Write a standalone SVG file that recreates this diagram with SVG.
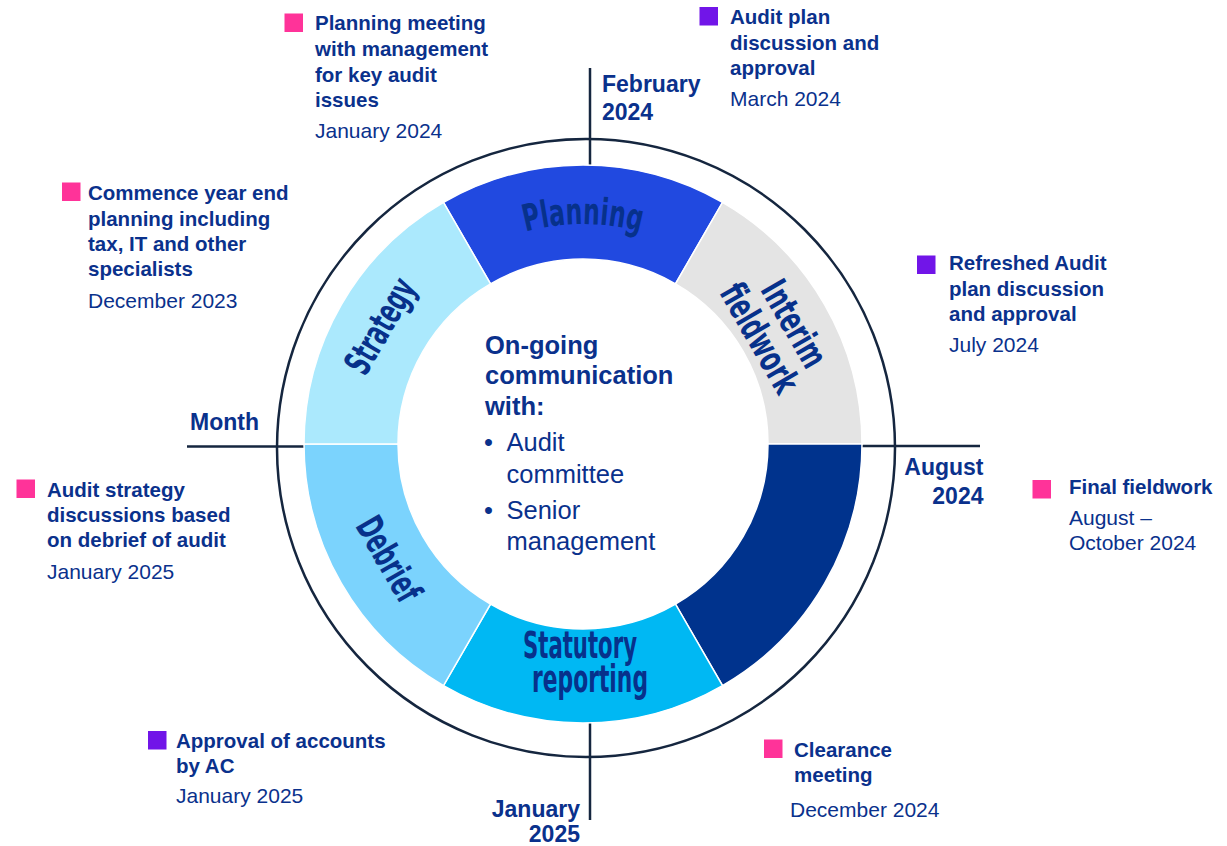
<svg xmlns="http://www.w3.org/2000/svg" width="1227" height="846" viewBox="0 0 1227 846">
<defs>
<style>
.lbl{font-family:"Liberation Sans",Arial,sans-serif;font-weight:bold;font-size:20.5px;fill:#0A318C}
.date{font-family:"Liberation Sans",Arial,sans-serif;font-size:21px;fill:#0A318C}
.axis{font-family:"Liberation Sans",Arial,sans-serif;font-weight:bold;font-size:23px;fill:#0A318C}
.seg{font-family:"Liberation Sans Narrow","DejaVu Sans Condensed","Liberation Sans",sans-serif;font-weight:bold;font-size:37px;fill:#07318B}
.ctr{font-family:"Liberation Sans",Arial,sans-serif;font-size:25.5px;fill:#0A318C}
.line{stroke:#15263F;stroke-width:2.5;fill:none}
.sep{stroke:#FFFFFF;stroke-width:1.5}
.pink{fill:#FF3399}
.purple{fill:#7115E8}
</style>
<path id="arcTop" d="M 392.5 334 A 220 220 0 0 1 773.5 334"/>
</defs>

<g id="frame">
<circle class="line" cx="586" cy="448" r="309"/>
<line class="line" x1="590" y1="68" x2="590" y2="166"/>
<line class="line" x1="590" y1="722" x2="590" y2="820"/>
<line class="line" x1="187" y1="446.5" x2="305" y2="446.5"/>
<line class="line" x1="861" y1="446" x2="980" y2="446"/>
</g>

<g id="ring">
<g id="seg-planning"><path class="sep" fill="#2149E0" d="M 443.5 202.4 A 279 279 0 0 1 722.5 202.4 L 675.5 283.8 A 185 185 0 0 0 490.5 283.8 Z"/>
<text class="seg"><textPath href="#arcTop" startOffset="50%" text-anchor="middle" textLength="116" lengthAdjust="spacingAndGlyphs">Planning</textPath></text></g>
<g id="seg-interim"><path class="sep" fill="#E4E4E4" d="M 722.5 202.4 A 279 279 0 0 1 862 444 L 768 444 A 185 185 0 0 0 675.5 283.8 Z"/>
<g transform="translate(777,331.5) rotate(60)">
<text class="seg" x="2" y="-6" text-anchor="middle" textLength="94" lengthAdjust="spacingAndGlyphs">Interim</text>
<text class="seg" x="-3" y="31" text-anchor="middle" textLength="120" lengthAdjust="spacingAndGlyphs">fieldwork</text>
</g></g>
<g id="seg-final"><path class="sep" fill="#00338D" d="M 862 444 A 279 279 0 0 1 722.5 685.6 L 675.5 604.2 A 185 185 0 0 0 768 444 Z"/></g>
<g id="seg-statutory"><path class="sep" fill="#00B8F3" d="M 722.5 685.6 A 279 279 0 0 1 443.5 685.6 L 490.5 604.2 A 185 185 0 0 0 675.5 604.2 Z"/>
<text class="seg" x="580" y="658" text-anchor="middle" textLength="114" lengthAdjust="spacingAndGlyphs">Statutory</text>
<text class="seg" x="590" y="692" text-anchor="middle" textLength="116" lengthAdjust="spacingAndGlyphs">reporting</text></g>
<g id="seg-debrief"><path class="sep" fill="#7BD3FD" d="M 443.5 685.6 A 279 279 0 0 1 304 444 L 398 444 A 185 185 0 0 0 490.5 604.2 Z"/>
<text class="seg" transform="translate(389,559) rotate(60)" x="0" y="13" text-anchor="middle" textLength="92" lengthAdjust="spacingAndGlyphs">Debrief</text></g>
<g id="seg-strategy"><path class="sep" fill="#ABE9FD" d="M 304 444 A 279 279 0 0 1 443.5 202.4 L 490.5 283.8 A 185 185 0 0 0 398 444 Z"/>
<text class="seg" transform="translate(383,327.5) rotate(-60)" x="0" y="9.5" text-anchor="middle" textLength="104" lengthAdjust="spacingAndGlyphs">Strategy</text></g>
</g>

<g id="center-text">
<text class="ctr" font-weight="bold" x="485" y="353.5">On-going</text>
<text class="ctr" font-weight="bold" x="485" y="384">communication</text>
<text class="ctr" font-weight="bold" x="485" y="415">with:</text>
<text class="ctr" x="484" y="451">•</text>
<text class="ctr" x="506.5" y="451">Audit</text>
<text class="ctr" x="506.5" y="482.5">committee</text>
<text class="ctr" x="484" y="519">•</text>
<text class="ctr" x="506.5" y="519">Senior</text>
<text class="ctr" x="506.5" y="550">management</text>
</g>

<g id="axis-labels">
<text class="axis" x="602" y="92">February</text>
<text class="axis" x="602" y="120">2024</text>
<text class="axis" x="190" y="430">Month</text>
<text class="axis" x="983.5" y="475" text-anchor="end">August</text>
<text class="axis" x="983.5" y="504" text-anchor="end">2024</text>
<text class="axis" x="580" y="816.5" text-anchor="end">January</text>
<text class="axis" x="580" y="841.5" text-anchor="end">2025</text>
</g>

<g id="ev-planning-meeting">
<rect class="pink" x="284.5" y="13.5" width="18.5" height="18.5"/>
<text class="lbl" x="315" y="30">Planning meeting</text>
<text class="lbl" x="315" y="56">with management</text>
<text class="lbl" x="315" y="81.5">for key audit</text>
<text class="lbl" x="315" y="107">issues</text>
<text class="date" x="315" y="137.5">January 2024</text>
</g>

<g id="ev-audit-plan">
<rect class="purple" x="699.5" y="7" width="18.5" height="18.5"/>
<text class="lbl" x="730" y="24">Audit plan</text>
<text class="lbl" x="730" y="50">discussion and</text>
<text class="lbl" x="730" y="75">approval</text>
<text class="date" x="730" y="106">March 2024</text>
</g>

<g id="ev-commence">
<rect class="pink" x="62" y="182.5" width="18.5" height="18.5"/>
<text class="lbl" x="88" y="200">Commence year end</text>
<text class="lbl" x="88" y="225.5">planning including</text>
<text class="lbl" x="88" y="250.5">tax, IT and other</text>
<text class="lbl" x="88" y="276">specialists</text>
<text class="date" x="88" y="307.5">December 2023</text>
</g>

<g id="ev-refreshed">
<rect class="purple" x="917" y="255.5" width="18.5" height="18.5"/>
<text class="lbl" x="949" y="270">Refreshed Audit</text>
<text class="lbl" x="949" y="295.5">plan discussion</text>
<text class="lbl" x="949" y="321">and approval</text>
<text class="date" x="949" y="352">July 2024</text>
</g>

<g id="ev-final-fieldwork">
<rect class="pink" x="1032.5" y="480" width="18.5" height="18.5"/>
<text class="lbl" x="1069" y="494">Final fieldwork</text>
<text class="date" x="1069" y="524.5">August –</text>
<text class="date" x="1069" y="550">October 2024</text>
</g>

<g id="ev-audit-strategy">
<rect class="pink" x="16.5" y="479.5" width="18.5" height="18.5"/>
<text class="lbl" x="47" y="497">Audit strategy</text>
<text class="lbl" x="47" y="522">discussions based</text>
<text class="lbl" x="47" y="547">on debrief of audit</text>
<text class="date" x="47" y="578.5">January 2025</text>
</g>

<g id="ev-approval">
<rect class="purple" x="148" y="731" width="18.5" height="18.5"/>
<text class="lbl" x="176" y="748">Approval of accounts</text>
<text class="lbl" x="176" y="772.5">by AC</text>
<text class="date" x="176" y="803">January 2025</text>
</g>

<g id="ev-clearance">
<rect class="pink" x="764" y="739.5" width="18.5" height="18.5"/>
<text class="lbl" x="794" y="756.5">Clearance</text>
<text class="lbl" x="794" y="782">meeting</text>
<text class="date" x="790" y="817">December 2024</text>
</g>
</svg>
